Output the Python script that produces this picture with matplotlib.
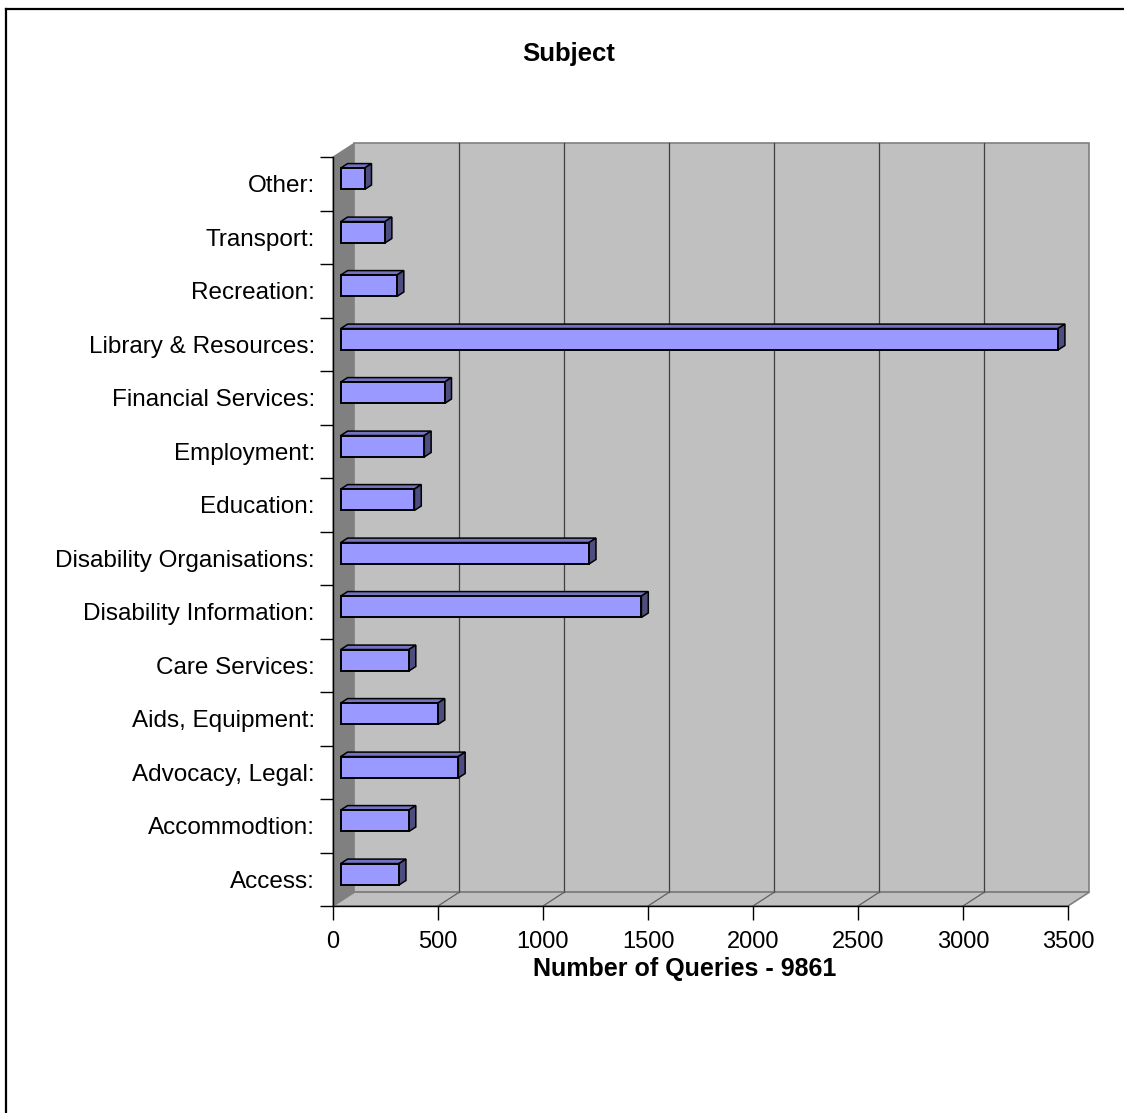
# plot.py
# Subject breakdown - Excel style 3D horizontal bars

import matplotlib.pyplot as plt
from matplotlib.patches import Polygon
from matplotlib.lines import Line2D

plt.rcParams['font.family'] = ['Liberation Sans', 'DejaVu Sans']

categories = ["Access:", "Accommodtion:", "Advocacy, Legal:", "Aids, Equipment:",
              "Care Services:", "Disability Information:", "Disability Organisations:",
              "Education:", "Employment:", "Financial Services:", "Library & Resources:",
              "Recreation:", "Transport:", "Other:"]
queries = [278, 325, 560, 463, 325, 1432, 1183, 351, 398, 495, 3416, 268, 211, 114]
xticks = [0, 500, 1000, 1500, 2000, 2500, 3000, 3500]

W, H = 1124, 1113
fig = plt.figure(figsize=(W / 100, H / 100), dpi=100)
ax = fig.add_axes([333 / W, 1 - 906 / H, (1068 - 333) / W, (906 - 157) / H])
ax.set_xlim(0, 3500)
ax.set_ylim(-0.5, len(categories) - 0.5)
ax.patch.set_visible(False)

# depth of the 3D box in data units
DX, DY = 102, 0.26
y0, y1 = -0.5, len(categories) - 0.5
xmax = xticks[-1]

# walls and floor
ax.add_patch(Polygon([(0, y0), (DX, y0 + DY), (DX, y1 + DY), (0, y1)],
                     fc='#808080', ec='#808080', lw=0.8, clip_on=False, zorder=1))
ax.add_patch(Polygon([(DX, y0 + DY), (xmax + DX, y0 + DY), (xmax + DX, y1 + DY), (DX, y1 + DY)],
                     fc='#C0C0C0', ec='#808080', lw=1.2, clip_on=False, zorder=1))
ax.add_patch(Polygon([(0, y0), (xmax, y0), (xmax + DX, y0 + DY), (DX, y0 + DY)],
                     fc='#C0C0C0', ec='#808080', lw=1.2, clip_on=False, zorder=1))

# gridlines on back wall and floor
for v in xticks[1:-1]:
    ax.plot([v + DX, v + DX], [y0 + DY, y1 + DY], color='#404040', lw=0.9,
            clip_on=False, zorder=1.5)
    ax.plot([v, v + DX], [y0, y0 + DY], color='#606060', lw=0.9,
            clip_on=False, zorder=1.5)

# bars
t1, t2, h = 0.36, 0.68, 0.2
for i, v in enumerate(queries):
    fx, fy = t1 * DX, i + t1 * DY
    bx, by = t2 * DX, i + t2 * DY
    top = [(fx, fy + h), (v + fx, fy + h), (v + bx, by + h), (bx, by + h)]
    side = [(v + fx, fy - h), (v + fx, fy + h), (v + bx, by + h), (v + bx, by - h)]
    front = [(fx, fy - h), (v + fx, fy - h), (v + fx, fy + h), (fx, fy + h)]
    ax.add_patch(Polygon(top, fc='#7373C0', ec='black', lw=1.1, clip_on=False, zorder=3))
    ax.add_patch(Polygon(side, fc='#4D4D80', ec='black', lw=1.1, clip_on=False, zorder=3))
    ax.add_patch(Polygon(front, fc='#9999FF', ec='black', lw=1.4, clip_on=False, zorder=3))

# axes
ax.set_xticks(xticks)
ax.set_xticklabels([str(t) for t in xticks], fontsize=17)
ax.tick_params(axis='x', length=10, width=1, pad=8, color='black')
ax.set_yticks(range(len(categories)))
ax.set_yticklabels(categories, fontsize=17.5)
ax.tick_params(axis='y', which='major', length=0, pad=13)
ax.set_yticks([k - 0.5 for k in range(len(categories) + 1)], minor=True)
ax.tick_params(axis='y', which='minor', length=9.5, width=1, color='black')
for s in ['top', 'right']:
    ax.spines[s].set_visible(False)
for s in ['left', 'bottom']:
    ax.spines[s].set_color('black')
    ax.spines[s].set_linewidth(1)
    ax.spines[s].set_zorder(4)

fig.text(569 / W, 1 - 54 / H, "Subject", ha='center', va='center',
         fontsize=18.5, fontweight='bold')
fig.text(685 / W, 1 - 969 / H, "Number of Queries - 9861", ha='center', va='center',
         fontsize=18, fontweight='bold')

# chart frame (left and top edges visible)
fig.add_artist(Line2D([6 / W, 6 / W], [0, 1 - 9 / H], color='black', lw=1.6,
                      transform=fig.transFigure))
fig.add_artist(Line2D([6 / W, 1], [1 - 9 / H, 1 - 9 / H], color='black', lw=1.6,
                      transform=fig.transFigure))

fig.savefig("out.png", dpi=100)
